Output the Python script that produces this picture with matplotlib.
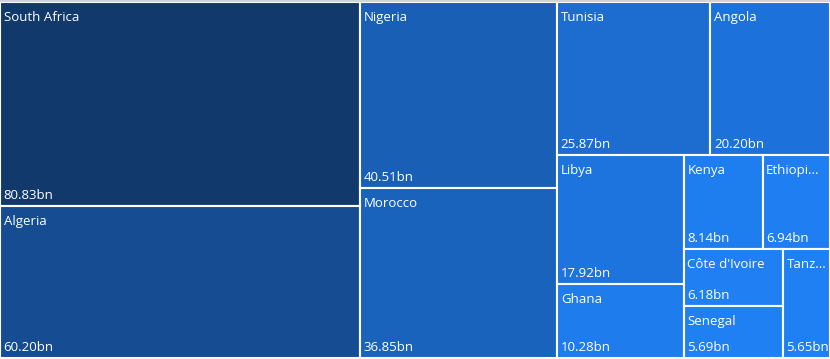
import numpy as np
import matplotlib
matplotlib.use("Agg")
import matplotlib.pyplot as plt
from matplotlib.patches import Rectangle

countries = ["South Africa", "Algeria", "Nigeria", "Morocco", "Tunisia", "Angola",
             "Libya", "Ghana", "Kenya", "Ethiopia", "Côte d'Ivoire", "Senegal", "Tanzania"]
values = [80.83, 60.20, 40.51, 36.85, 25.87, 20.20, 17.92, 10.28, 8.14, 6.94, 6.18, 5.69, 5.65]

W, H = 830, 359
dark = np.array([18, 57, 108]) / 255
light = np.array([31, 128, 244]) / 255


def squarify(vals, x0, y0, x1, y1, ratio=(1 + 5 ** 0.5) / 2):
    # d3-style squarified layout
    rects = []
    total = sum(vals)
    i0 = 0
    n = len(vals)
    while i0 < n:
        dx, dy = x1 - x0, y1 - y0
        i1 = i0
        s = vals[i1]
        i1 += 1
        mn = mx = s
        alpha = max(dy / dx, dx / dy) / (total * ratio)
        beta = s * s * alpha
        best = max(mx / beta, beta / mn)
        while i1 < n:
            v = vals[i1]
            s2 = s + v
            mn2, mx2 = min(mn, v), max(mx, v)
            beta = s2 * s2 * alpha
            r = max(mx2 / beta, beta / mn2)
            if r > best:
                break
            s, mn, mx, best = s2, mn2, mx2, r
            i1 += 1
        row = vals[i0:i1]
        if dx < dy:
            h = dy * s / total
            xx = x0
            for v in row:
                w = dx * v / s
                rects.append((xx, y0, w, h))
                xx += w
            y0 += h
        else:
            w = dx * s / total
            yy = y0
            for v in row:
                h = dy * v / s
                rects.append((x0, yy, w, h))
                yy += h
            x0 += w
        total -= s
        i0 = i1
    return rects


rects = squarify(values, 0, 2, W, H - 1)

fig = plt.figure(figsize=(W / 100, H / 100), dpi=100)
ax = fig.add_axes([0, 0, 1, 1])
ax.set_xlim(0, W)
ax.set_ylim(H, 0)
ax.axis("off")
fig.patch.set_facecolor("white")
ax.plot([0, W], [0.8, 0.8], color="#d0d4da", lw=1.6)

fig.canvas.draw()
renderer = fig.canvas.get_renderer()
vmin, vmax = min(values), max(values)

for name, v, (x, y, w, h) in zip(countries, values, rects):
    t = (v - vmin) / (vmax - vmin)
    col = light + (dark - light) * t
    ax.add_patch(Rectangle((x, y), w, h, facecolor=col, edgecolor="white", lw=1.5))
    txt = ax.text(x + 3.5, y + 9, name, color="white", fontsize=9.5, family="Open Sans",
                  va="top", ha="left")
    if txt.get_window_extent(renderer).width > w - 18:
        label = name[:-1]
        txt.set_text(label + "...")
        while txt.get_window_extent(renderer).width > w - 4 and len(label) > 1:
            label = label[:-1]
            txt.set_text(label.rstrip() + "...")
    ax.text(x + 3.5, y + h - 4, f"{v:.2f}bn", color="white", fontsize=9.5, family="Open Sans",
            va="bottom", ha="left")

fig.savefig("out.png", dpi=100)
